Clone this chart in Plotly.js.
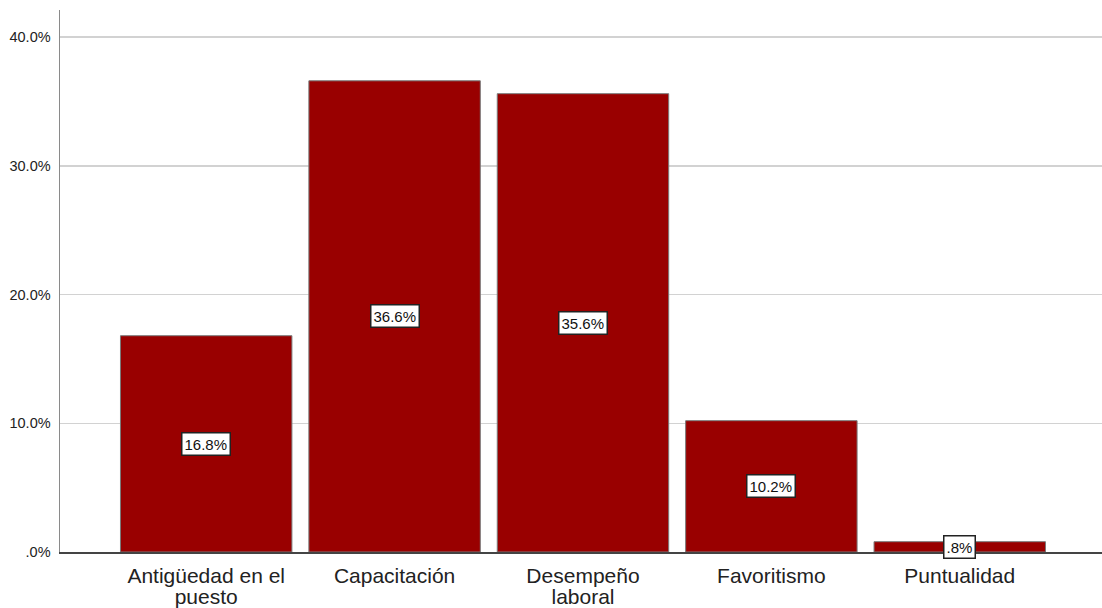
<!DOCTYPE html>
<html>
<head>
<meta charset="utf-8">
<script src="https://cdn.plot.ly/plotly-3.0.1.min.js"></script>
<style>html,body{margin:0;padding:0;background:#fff;}#chart{width:1102px;height:608px;}</style>
</head>
<body>
<div id="chart"></div>
<script>
const categories = ["Antigüedad en el<br>puesto", "Capacitación", "Desempeño<br>laboral", "Favoritismo", "Puntualidad"];
const percents = [16.8, 36.6, 35.6, 10.2, 0.8];
const yTickVals = [0, 10, 20, 30, 40];
const yTickText = [".0%", "10.0%", "20.0%", "30.0%", "40.0%"];

function fmt(v) { return v.toFixed(1).replace(/^0\./, ".") + "%"; }
function bigLabel(c) {
  return c.split("<br>").map(s => '<span style="font-size:21px">' + s + '</span>').join("<br>");
}
const catIds = categories.map((c, i) => i);

const trace = {
  type: "bar",
  x: catIds,
  y: percents,
  marker: { color: "#990000", line: { color: "#7a7a7a", width: 1 } },
  hoverinfo: "none"
};

const annotations = percents.map((v, i) => ({
  x: i, y: v / 2, xref: "x", yref: "y",
  text: fmt(v), showarrow: false,
  font: { family: "Liberation Sans, Arial, sans-serif", size: 15, color: "#111" },
  bgcolor: "#ffffff", bordercolor: "#222", borderwidth: 1.5, borderpad: 2
}));

const layout = {
  width: 1102, height: 608,
  margin: { l: 60, r: 0, t: 10, b: 56 },
  paper_bgcolor: "#fff", plot_bgcolor: "#fff",
  showlegend: false,
  bargap: 0.09,
  xaxis: {
    range: [-0.776, 4.755],
    tickmode: "array", tickvals: catIds, ticktext: categories.map(bigLabel),
    showgrid: false, zeroline: false,
    showline: true, linecolor: "#444", linewidth: 1.5,
    ticks: "", ticklabelstandoff: 10,
    tickfont: { family: "Liberation Sans, Arial, sans-serif", size: 16, color: "#222" }
  },
  yaxis: {
    range: [0, 42.1],
    tickmode: "array", tickvals: yTickVals, ticktext: yTickText,
    showgrid: true, gridcolor: "#d2d2d2", gridwidth: 1.5,
    zeroline: false,
    showline: true, linecolor: "#8a8a8a", linewidth: 1.5,
    ticks: "", ticklabelstandoff: 5,
    tickfont: { family: "Liberation Sans, Arial, sans-serif", size: 14.5, color: "#222" }
  },
  annotations: annotations
};

Plotly.newPlot("chart", [trace], layout, { displayModeBar: false, staticPlot: true });
</script>
</body>
</html>
